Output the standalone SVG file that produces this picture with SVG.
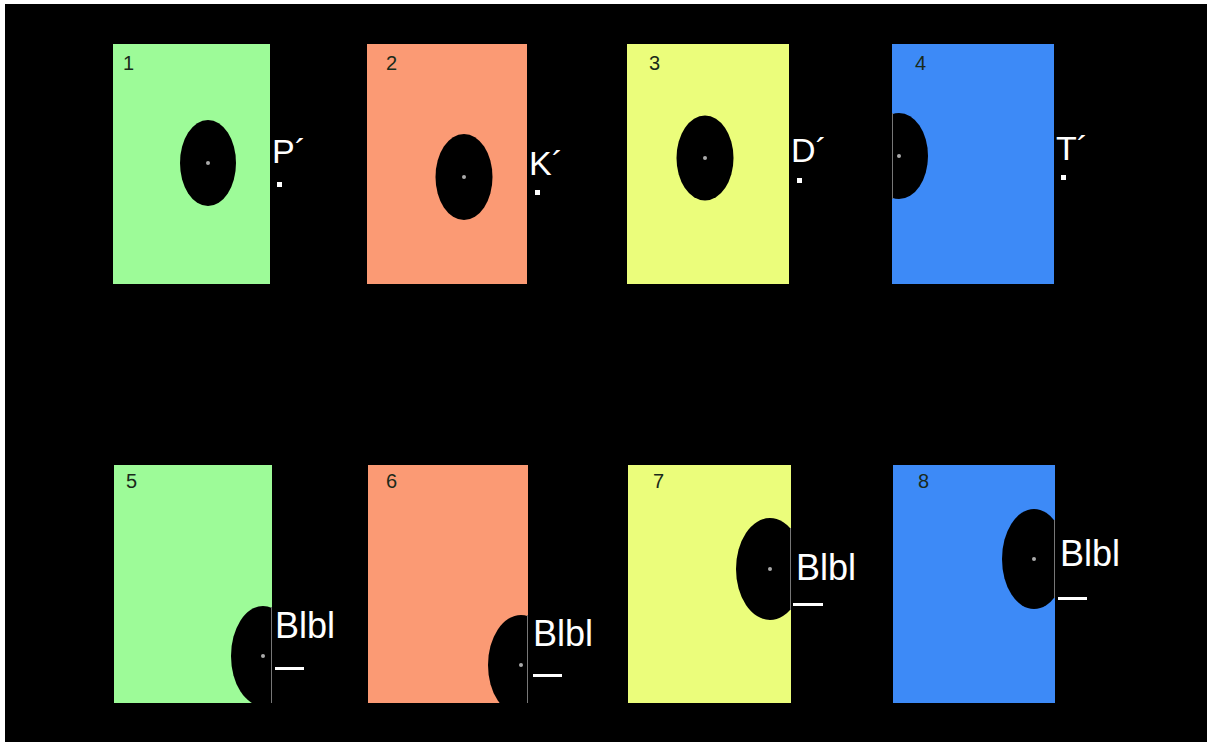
<svg xmlns="http://www.w3.org/2000/svg" width="1207" height="744" viewBox="0 0 1207 744">
<style>
.num{font-family:"Liberation Sans",Arial,sans-serif;font-size:20px;fill:#1a2a1a}
.lbl{font-family:"Liberation Sans",Arial,sans-serif;font-size:34px;fill:#fff}
.bl{font-family:"Liberation Sans",Arial,sans-serif;font-size:36px;fill:#fff}
.hole{fill:#000}
.dot{fill:#aaa}
.sq{fill:#fff}
.edge{stroke:#777;stroke-width:1}
.g{fill:#9dfb98}.s{fill:#fb9a74}.y{fill:#ebfd7b}.b{fill:#3d8af7}
</style>
<defs>
<clipPath id="c4"><rect x="892" y="44" width="162" height="240"/></clipPath>
<clipPath id="c5"><rect x="114" y="465" width="158" height="238"/></clipPath>
<clipPath id="c6"><rect x="368" y="465" width="160" height="238"/></clipPath>
<clipPath id="c7"><rect x="628" y="465" width="163" height="238"/></clipPath>
<clipPath id="c8"><rect x="893" y="465" width="162" height="238"/></clipPath>
</defs>
<rect x="0" y="0" width="1207" height="744" fill="#fff"/>
<rect x="5" y="4" width="1202" height="738" fill="#000"/>
<g id="panel1">
<rect class="g" x="113" y="44" width="157" height="240"/>
<text class="num" x="123" y="70">1</text>
<ellipse class="hole" cx="208" cy="163" rx="28" ry="43"/>
<circle class="dot" cx="208" cy="163" r="2"/>
<text class="lbl" x="272" y="163">P´</text>
<rect class="sq" x="277" y="182" width="5" height="5"/>
</g>
<g id="panel2">
<rect class="s" x="367" y="44" width="160" height="240"/>
<text class="num" x="386" y="70">2</text>
<ellipse class="hole" cx="464" cy="177" rx="28.5" ry="43"/>
<circle class="dot" cx="464" cy="177" r="2"/>
<text class="lbl" x="529" y="175">K´</text>
<rect class="sq" x="535" y="190" width="5" height="5"/>
</g>
<g id="panel3">
<rect class="y" x="627" y="44" width="162" height="240"/>
<text class="num" x="649" y="70">3</text>
<ellipse class="hole" cx="705" cy="158" rx="28.5" ry="42.5"/>
<circle class="dot" cx="705" cy="158" r="2"/>
<text class="lbl" x="791" y="162">D´</text>
<rect class="sq" x="797" y="178" width="5" height="5"/>
</g>
<g id="panel4">
<rect class="b" x="892" y="44" width="162" height="240"/>
<text class="num" x="915" y="70">4</text>
<ellipse class="hole" cx="899" cy="156" rx="29" ry="43" clip-path="url(#c4)"/>
<line class="edge" x1="892.5" y1="113" x2="892.5" y2="199"/>
<circle class="dot" cx="899" cy="156" r="2"/>
<text class="lbl" x="1056" y="160">T´</text>
<rect class="sq" x="1061" y="175" width="5" height="5"/>
</g>
<g id="panel5">
<rect class="g" x="114" y="465" width="158" height="238"/>
<text class="num" x="126" y="488">5</text>
<ellipse class="hole" cx="263" cy="656" rx="32" ry="50" clip-path="url(#c5)"/>
<line class="edge" x1="271.5" y1="607" x2="271.5" y2="703"/>
<circle class="dot" cx="263" cy="656" r="2"/>
<text class="bl" x="275" y="638">Blbl</text>
<rect class="sq" x="275" y="667" width="29" height="3"/>
</g>
<g id="panel6">
<rect class="s" x="368" y="465" width="160" height="238"/>
<text class="num" x="386" y="488">6</text>
<ellipse class="hole" cx="521" cy="665" rx="33" ry="50" clip-path="url(#c6)"/>
<line class="edge" x1="527.5" y1="615" x2="527.5" y2="703"/>
<circle class="dot" cx="521" cy="665" r="2"/>
<text class="bl" x="533" y="646">Blbl</text>
<rect class="sq" x="533" y="674" width="29" height="3"/>
</g>
<g id="panel7">
<rect class="y" x="628" y="465" width="163" height="238"/>
<text class="num" x="653" y="488">7</text>
<ellipse class="hole" cx="770" cy="569" rx="34" ry="51" clip-path="url(#c7)"/>
<line class="edge" x1="790.5" y1="528" x2="790.5" y2="610"/>
<circle class="dot" cx="770" cy="569" r="2"/>
<text class="bl" x="796" y="580">Blbl</text>
<rect class="sq" x="793" y="603" width="30" height="3"/>
</g>
<g id="panel8">
<rect class="b" x="893" y="465" width="162" height="238"/>
<text class="num" x="918" y="488">8</text>
<ellipse class="hole" cx="1034" cy="559" rx="32" ry="50" clip-path="url(#c8)"/>
<line class="edge" x1="1054.5" y1="520" x2="1054.5" y2="598"/>
<circle class="dot" cx="1034" cy="559" r="2"/>
<text class="bl" x="1060" y="566">Blbl</text>
<rect class="sq" x="1058" y="597" width="29" height="3"/>
</g>
<g id="connectors"/>
</svg>
